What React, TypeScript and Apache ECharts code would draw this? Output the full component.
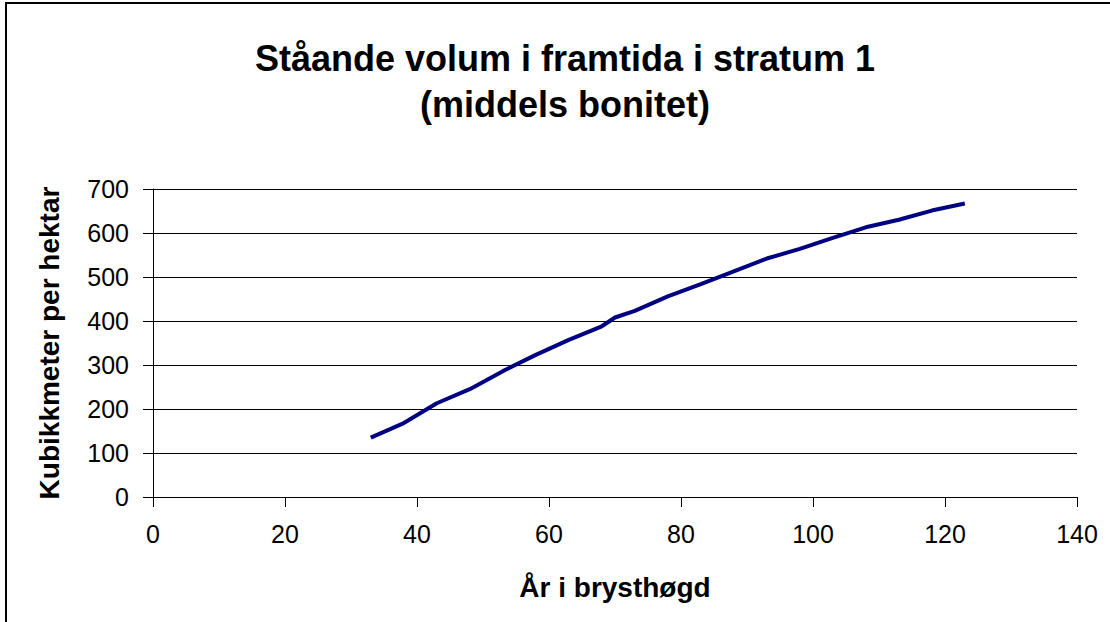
import React, { useEffect, useRef } from "react";
import * as echarts from "echarts";

const titleLines = ["Ståande volum i framtida i stratum 1", "(middels bonitet)"];
const xAxisName = "År i brysthøgd";
const yAxisName = "Kubikkmeter per hektar";
const ages = [33, 38, 43, 48, 53, 58, 63, 68, 70, 73, 78, 83, 88, 93, 98, 103, 108, 113, 118, 123];
const volumes = [135, 168, 213, 245, 286, 323, 357, 388, 408, 423, 456, 484, 513, 542, 564, 589, 613, 630, 651, 667];

export default function App() {
  const ref = useRef<HTMLDivElement>(null);
  useEffect(() => {
    document.body.style.margin = "0";
    const chart = echarts.init(ref.current!, null, { renderer: "svg" });
    const font = "'Liberation Sans', Arial, sans-serif";
    chart.setOption({
      animation: false,
      backgroundColor: "#ffffff",
      title: {
        text: titleLines.join("\n"),
        left: 560,
        textAlign: "center",
        top: 30,
        textStyle: { fontFamily: font, fontSize: 36, fontWeight: "bold", color: "#000", lineHeight: 46 },
      },
      graphic: [
        {
          type: "rect",
          shape: { x: 6, y: 3, width: 1130, height: 700 },
          style: { fill: "none", stroke: "#000", lineWidth: 2 },
          silent: true,
        },
      ],
      grid: { left: 153, right: 33, top: 189, bottom: 125 },
      xAxis: {
        type: "value",
        min: 0,
        max: 140,
        interval: 20,
        name: xAxisName,
        nameLocation: "middle",
        nameGap: 76,
        nameTextStyle: { fontFamily: font, fontSize: 28, fontWeight: "bold", color: "#000" },
        axisLine: { lineStyle: { color: "#000", width: 1 } },
        axisTick: { show: true, length: 10, inside: false, lineStyle: { color: "#000" } },
        axisLabel: { fontFamily: font, fontSize: 25, color: "#000", margin: 24 },
        splitLine: { show: false },
      },
      yAxis: {
        type: "value",
        min: 0,
        max: 700,
        interval: 100,
        name: yAxisName,
        nameLocation: "middle",
        nameGap: 90,
        nameTextStyle: { fontFamily: font, fontSize: 28, fontWeight: "bold", color: "#000" },
        axisLine: { show: true, lineStyle: { color: "#000", width: 1 } },
        axisTick: { show: true, length: 10, lineStyle: { color: "#000" } },
        axisLabel: { fontFamily: font, fontSize: 25, color: "#000", margin: 24 },
        splitLine: { show: true, lineStyle: { color: "#000", width: 1 } },
      },
      series: [
        {
          type: "line",
          data: ages.map((a, i) => [a, volumes[i]]),
          showSymbol: false,
          symbol: "none",
          lineStyle: { color: "#000080", width: 4 },
        },
      ],
    });
    return () => chart.dispose();
  }, []);
  return <div ref={ref} style={{ width: 1110, height: 622, position: "absolute", left: 0, top: 0 }} />;
}
